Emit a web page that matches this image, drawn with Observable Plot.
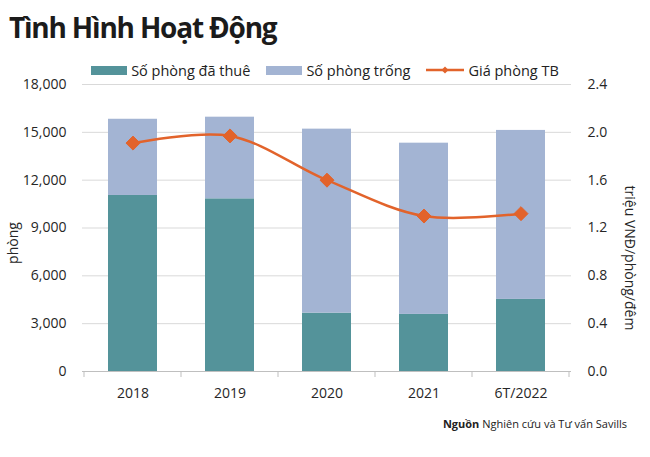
<!DOCTYPE html>
<html><head><meta charset="utf-8">
<script src="https://cdn.jsdelivr.net/npm/d3@7"></script>
<script src="https://cdn.jsdelivr.net/npm/@observablehq/plot@0.6"></script>
<style>
body{margin:0;background:#fff;font-family:"Open Sans",sans-serif;}
#wrap{position:relative;width:650px;height:457px;overflow:hidden;background:#fff}
#title{position:absolute;left:9px;top:8px;font-size:28px;font-weight:700;color:#1b1b1b;white-space:nowrap;letter-spacing:-1.2px}
#legend{position:absolute;left:0;top:60px;width:650px;height:20px;display:flex;justify-content:center;align-items:center;font-size:14.5px;color:#222;z-index:2}
.item{display:flex;align-items:center;margin:0 8px}
.sw{width:36px;height:9px;margin-right:4px}
#chart{position:absolute;left:0;top:66px}
#source{position:absolute;right:23px;top:416px;font-size:11px;color:#222;white-space:nowrap}
</style></head>
<body>
<div id="wrap">
  <div id="title">Tình Hình Hoạt Động</div>
  <div id="legend"></div>
  <div id="chart"></div>
  <div id="source"><b>Nguồn</b> Nghiên cứu và Tư vấn Savills</div>
</div>
<script>
const categories = ["2018", "2019", "2020", "2021", "6T/2022"];
const occupied = [11040, 10830, 3660, 3580, 4520];
const vacant = [4780, 5120, 11540, 10740, 10600];
const price = [1.91, 1.97, 1.60, 1.30, 1.32];
const seriesNames = ["Số phòng đã thuê", "Số phòng trống", "Giá phòng TB"];
const leftTicks = [0, 3000, 6000, 9000, 12000, 15000, 18000];
const rightTicks = [0, 0.4, 0.8, 1.2, 1.6, 2.0, 2.4];
const colors = ["#54939a", "#a3b4d3", "#e2632b"];

const ratio = 18000 / 2.4;

const barData = [];
categories.forEach((c, i) => {
  barData.push({cat: c, series: seriesNames[0], value: occupied[i]});
  barData.push({cat: c, series: seriesNames[1], value: vacant[i]});
});
const lineData = categories.map((c, i) => ({cat: c, price: price[i]}));

// legend
const legend = document.getElementById("legend");
seriesNames.forEach((s, i) => {
  const item = document.createElement("div");
  item.className = "item";
  if (i < 2) {
    item.innerHTML = `<span class="sw" style="background:${colors[i]}"></span><span>${s}</span>`;
  } else {
    item.innerHTML = `<svg width="38" height="12" style="margin-right:4px"><line x1="0" x2="38" y1="6" y2="6" stroke="${colors[2]}" stroke-width="2.5"/><path d="M19,2.5L22.5,6L19,9.5L15.5,6Z" fill="${colors[2]}"/></svg><span>${s}</span>`;
  }
  legend.appendChild(item);
});

const boundaryTicks = (index, scales, values, dims) => {
  const x = scales.x, y = scales.y;
  const step = x(categories[1]) - x(categories[0]);
  const bw = x.bandwidth ? x.bandwidth() : step * 0.5;
  const off = (step - bw) / 2;
  const g = d3.create("svg:g");
  const y0 = y(0);
  const xs = categories.map(c => x(c) - off);
  xs.push(x(categories[categories.length - 1]) + bw + off);
  xs.forEach(px => {
    g.append("line").attr("x1", px).attr("x2", px).attr("y1", y0).attr("y2", y0 + 6)
      .attr("stroke", "#bfbfbf").attr("stroke-width", 1);
  });
  return g.node();
};

const chart = Plot.plot({
  width: 650,
  height: 355,
  marginLeft: 82,
  marginRight: 79,
  marginTop: 18,
  marginBottom: 50,
  style: {fontFamily: "Open Sans, sans-serif", fontSize: "14px", color: "#262626", background: "transparent"},
  x: {domain: categories, paddingInner: 0.5, paddingOuter: 0.25, label: null},
  y: {domain: [0, 18000], label: null},
  color: {domain: seriesNames.slice(0, 2), range: colors.slice(0, 2)},
  marks: [
    Plot.gridY(leftTicks.slice(1), {stroke: "#d9d9d9", strokeOpacity: 1}),
    Plot.barY(barData, {x: "cat", y: "value", fill: "series", order: seriesNames.slice(0, 2)}),
    Plot.ruleY([0], {stroke: "#bfbfbf"}),
    boundaryTicks,
    Plot.axisX({tickSize: 0, tickPadding: 17, label: null}),
    Plot.axisY({anchor: "left", ticks: leftTicks, tickFormat: d3.format(",d"), tickSize: 0, tickPadding: 16, label: null}),
    Plot.axisY({anchor: "right", ticks: rightTicks.map(v => v * ratio), tickFormat: d => (d / ratio).toFixed(1), tickSize: 0, tickPadding: 16, label: null}),
    Plot.text(["phòng"], {frameAnchor: "left", textAnchor: "middle", dx: -69, dy: 15, rotate: -90, fontSize: 14, fill: "#262626"}),
    Plot.text(["triệu VNĐ/phòng/đêm"], {frameAnchor: "right", textAnchor: "middle", dx: 58, dy: 30, rotate: 90, fontSize: 14, fill: "#262626"}),
    Plot.line(lineData, {x: "cat", y: d => d.price * ratio, curve: "catmull-rom", stroke: colors[2], strokeWidth: 2.5}),
    Plot.dot(lineData, {x: "cat", y: d => d.price * ratio, symbol: "diamond2", r: 6.3, fill: colors[2], stroke: colors[2], strokeWidth: 1})
  ]
});
document.getElementById("chart").appendChild(chart);
</script>
</body></html>
